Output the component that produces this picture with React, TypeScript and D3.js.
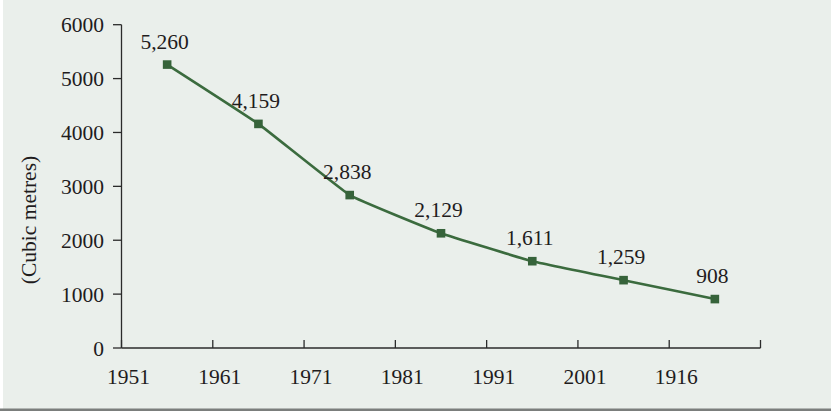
import React from "react";
import * as d3 from "d3";

// Per capita water availability, cubic metres
const years = ["1951", "1961", "1971", "1981", "1991", "2001", "1916"];
const values = [5260, 4159, 2838, 2129, 1611, 1259, 908];
const yTicks = [0, 1000, 2000, 3000, 4000, 5000, 6000];
const yTitle = "(Cubic metres)";

const W = 831;
const H = 411;
const FONT = "'Liberation Serif', 'Times New Roman', serif";
const FS = 21.5;
const TEXT = "#1f1c1d";
const AXIS = "#2b2b2b";
const GREEN = "#3b6b3e";

export default function App() {
  const x = d3.scaleBand<string>().domain(years).range([121.5, 760.5]).paddingInner(0).paddingOuter(0);
  const y = d3.scaleLinear().domain([0, 6000]).range([348, 24.7]);
  const bw = x.bandwidth();
  const edges = years.map((yr) => x(yr) as number).concat([(x(years[years.length - 1]) as number) + bw]);
  const pts: [number, number][] = values.map((v, i) => [(x(years[i]) as number) + bw / 2, y(v)]);
  const line = d3.line().curve(d3.curveCardinal.tension(0.72))(pts) || "";
  const fmt = d3.format(",");

  return (
    <div style={{ position: "fixed", left: 0, top: 0 }}>
      <svg width={W} height={H} style={{ display: "block" }}>
        <rect x={0} y={0} width={W} height={H} fill="#eaefeb" />
        <rect x={0} y={0} width={3} height={H} fill="#ffffff" />
        <rect x={0} y={408.5} width={W} height={2.5} fill="#7b7e7c" />

        {/* y axis */}
        <line x1={121.5} x2={121.5} y1={y(6000)} y2={y(0)} stroke={AXIS} strokeWidth={1.3} />
        {yTicks.map((t) => (
          <g key={t}>
            <line x1={113} x2={121.5} y1={y(t)} y2={y(t)} stroke={AXIS} strokeWidth={1.3} />
            <text x={104} y={y(t) + 7.5} textAnchor="end" fontFamily={FONT} fontSize={FS} fill={TEXT}>
              {t}
            </text>
          </g>
        ))}
        <text
          transform={`translate(36,220) rotate(-90)`}
          textAnchor="middle"
          fontFamily={FONT}
          fontSize={FS}
          fill={TEXT}
        >
          {yTitle}
        </text>

        {/* x axis */}
        <line x1={121.5} x2={edges[edges.length - 1]} y1={y(0)} y2={y(0)} stroke={AXIS} strokeWidth={1.3} />
        {edges.map((e, i) => (
          <line key={i} x1={e} x2={e} y1={y(0) - 8} y2={y(0)} stroke={AXIS} strokeWidth={1.3} />
        ))}
        {years.map((yr) => (
          <text
            key={yr}
            x={(x(yr) as number) + 7}
            y={383.5}
            textAnchor="middle"
            fontFamily={FONT}
            fontSize={FS}
            fill={TEXT}
          >
            {yr}
          </text>
        ))}

        {/* series */}
        <path d={line} fill="none" stroke={GREEN} strokeWidth={2.6} />
        {pts.map(([px, py], i) => (
          <g key={i}>
            <rect x={px - 4.3} y={py - 4.3} width={8.6} height={8.6} fill="#36633a" />
            <text x={px - 2.5} y={py - 16} textAnchor="middle" fontFamily={FONT} fontSize={FS} fill={TEXT}>
              {fmt(values[i])}
            </text>
          </g>
        ))}
      </svg>
    </div>
  );
}
